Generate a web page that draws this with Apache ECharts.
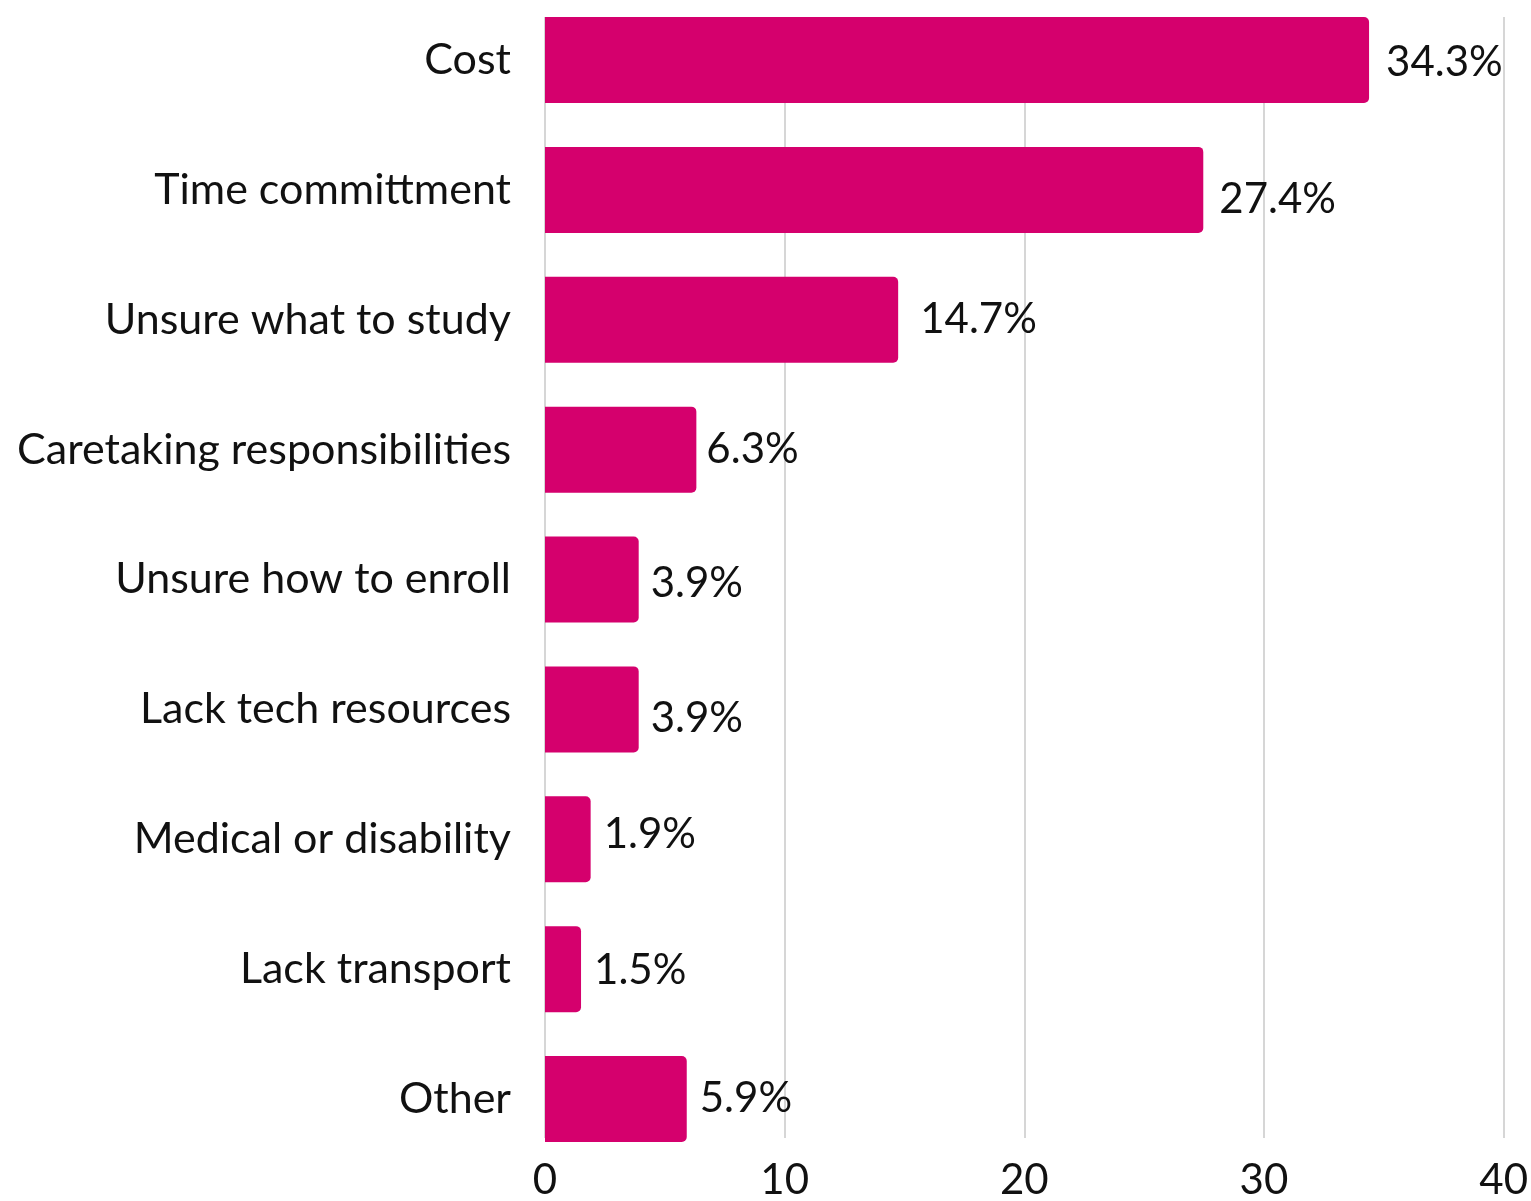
<!DOCTYPE html>
<html>
<head>
<meta charset="utf-8">
<script src="https://cdn.jsdelivr.net/npm/echarts@6/dist/echarts.min.js"></script>
<style>html,body{margin:0;padding:0;background:#fff}#c{width:1531px;height:1201px}</style>
</head>
<body>
<div id="c"></div>
<script>
const categories = ["Cost","Time committment","Unsure what to study","Caretaking responsibilities","Unsure how to enroll","Lack tech resources","Medical or disability","Lack transport","Other"];
const values = [34.3, 27.4, 14.7, 6.3, 3.9, 3.9, 1.9, 1.5, 5.9];
const xTicks = [0, 10, 20, 30, 40];

// small manual nudges of the value labels, as placed in the original
const labelNudge = [[4,2],[3,10],[9,0],[-3,0],[-1,4],[-1,9],[0,-5],[0,1],[0,-1]];

const FONT = 'Lato';
const chart = echarts.init(document.getElementById('c'), null, {renderer: 'canvas'});
chart.setOption({
  backgroundColor: '#ffffff',
  animation: false,
  grid: [
    {left: 545, right: 25, top: 17, height: 1123},
    {left: 545, right: 25, top: 60, height: 1039}
  ],
  xAxis: [
    {gridIndex: 0, type: 'value', min: xTicks[0], max: xTicks[xTicks.length-1], interval: 10,
     axisLine: {show: false}, axisTick: {show: false},
     splitLine: {show: true, lineStyle: {color: '#c8c8c8', width: 1.5}},
     axisLabel: {color: '#111', fontFamily: FONT, fontSize: 42, margin: 21}},
    {gridIndex: 1, type: 'value', min: xTicks[0], max: xTicks[xTicks.length-1], show: false}
  ],
  yAxis: [
    {gridIndex: 0, type: 'category', data: categories, inverse: true, show: false},
    {gridIndex: 1, type: 'category', data: categories, inverse: true, boundaryGap: false,
     axisLine: {show: false}, axisTick: {show: false}, splitLine: {show: false},
     axisLabel: {color: '#111', fontFamily: FONT, fontSize: 43, margin: 34, padding: [0, 0, 5, 0]}}
  ],
  series: [{
    type: 'bar', xAxisIndex: 1, yAxisIndex: 1, clip: false,
    data: values.map((v, i) => ({value: v, label: {offset: labelNudge[i]}})),
    barWidth: 86,
    itemStyle: {color: '#D5006D', borderRadius: [0, 5, 5, 0]},
    label: {show: true, position: 'right', distance: 13, color: '#111', fontFamily: FONT, fontSize: 42,
      formatter: p => p.value.toFixed(1) + '%'}
  }]
});
</script>
</body>
</html>
